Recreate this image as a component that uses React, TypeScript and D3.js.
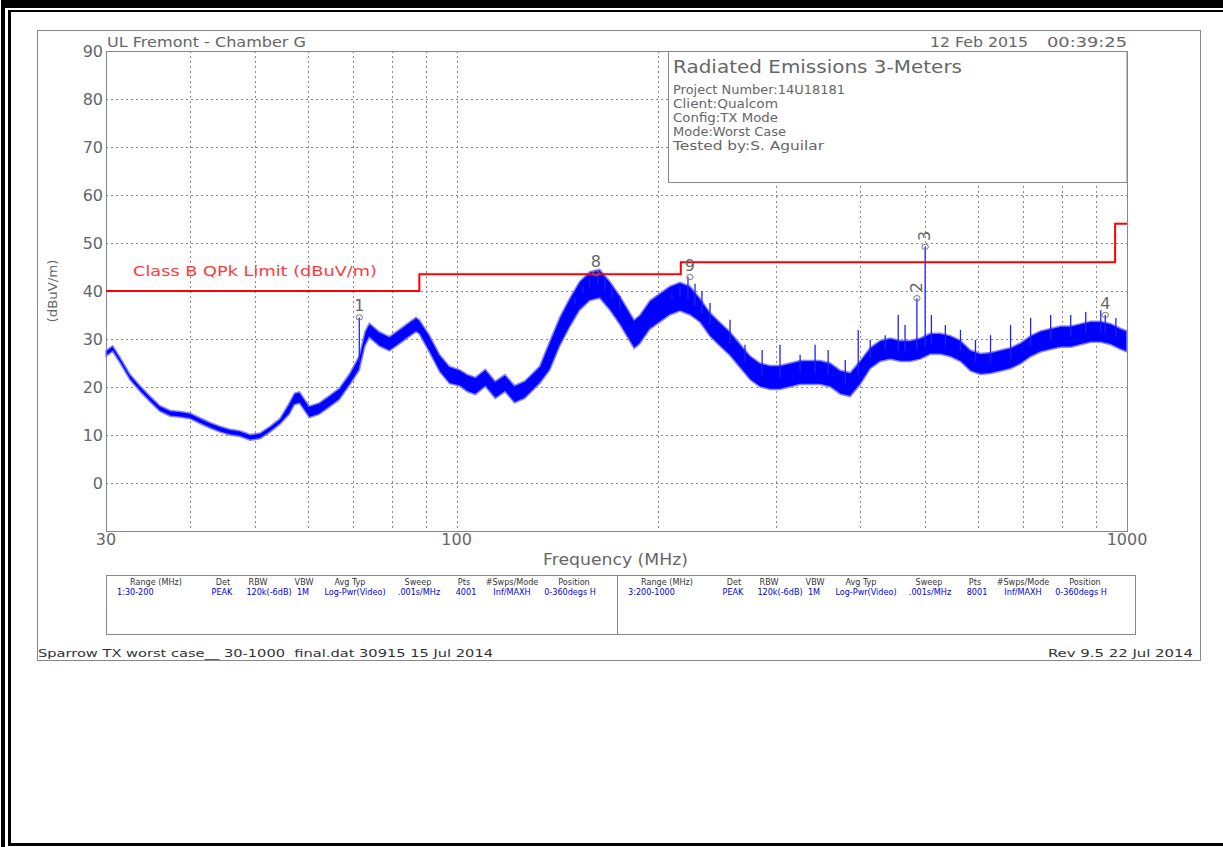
import * as d3 from "d3";
import { useEffect, useRef } from "react";

// axis ticks
const yTicks = [0, 10, 20, 30, 40, 50, 60, 70, 80, 90];
const xTickLabels = [30, 100, 1000];
const xGrid = [40, 50, 60, 70, 80, 90, 100, 200, 300, 400, 500, 600, 700, 800, 900];

// measured trace envelope (MHz, dBuV/m low / high)
const traceFreq = [
  30, 30.7, 31.5, 32.6, 33.8, 34.9, 36.1, 37.4, 38.7, 40, 41.4, 42.9, 44.4, 45.9, 47.5, 49.2,
  50.9, 52.7, 54.5, 56.3, 57.3, 58.3, 60.3, 62.4, 64.6, 66.8, 69.2, 71.6, 73, 74.1, 76.7, 79.4,
  82.2, 85, 87, 88, 91.1, 94.3, 97.6, 101, 103.8, 106.7, 110.4, 114.2, 118.1, 122, 126.3, 130.8, 133,
  137.7, 142.5, 147.5, 152.6, 158, 163.5, 169.3, 175.2, 181.3, 184, 187.7, 194.2, 201, 208.1,
  215.4, 222.9, 230.7, 238.8, 247.1, 255.8, 264.7, 274, 283.6, 293.5, 303.7, 314.4, 325.4,
  336.8, 348.6, 360.8, 373.4, 386.5, 400, 414, 428.5, 443.5, 459.1, 475.1, 491.8, 509, 526.8,
  545.3, 564.4, 584.1, 604.6, 625.8, 647.7, 670.4, 693.9, 718.2, 743.3, 769.4, 796.3, 824.2,
  853.1, 883, 913.9, 945.9, 979, 1000,
];
const traceLow = [
  26.4, 27.4, 24.9, 21.4, 18.9, 16.9, 14.9, 13.9, 13.7, 13.4, 12.4, 11.4, 10.6, 10.0, 9.7, 8.9,
  9.2, 10.6, 12.2, 14.3, 16.3, 16.6, 13.6, 14.3, 15.8, 17.3, 20.3, 23.5, 28.5, 30.3, 28.5, 27.5,
  29, 30.5, 31.5, 31, 27.2, 23.2, 20.7, 20.2, 19.0, 18.4, 20.1, 17.6, 19.0, 16.7, 17.6, 19.7, 20.7,
  23.5, 28.5, 32.5, 36, 38, 38.5, 36, 33, 29.5, 28, 29, 32, 33.5, 35,
  35.8, 35, 33.5, 30.5, 28.5, 26.5, 24, 21.5, 20, 19.5, 19.5, 20, 20.5,
  20.5, 20.5, 20, 18.5, 18, 20.5, 23.8, 25.3, 25.8, 25.3, 25.3, 25.8, 26.8, 26.8,
  26.3, 25.3, 23.3, 22.6, 22.8, 23.3, 23.8, 24.8, 26.3, 27.3, 27.8, 28.3, 28.3,
  28.8, 29.3, 29.3, 28.8, 27.8, 27.3,
];
const traceHigh = [
  27.6, 28.6, 26.1, 22.6, 20.1, 18.1, 16.1, 15.1, 14.9, 14.6, 13.6, 12.6, 11.8, 11.2, 10.9, 10.1,
  10.4, 11.8, 13.4, 16.7, 18.7, 19.0, 16.0, 16.7, 18.2, 19.7, 22.7, 26.5, 31.5, 33.3, 31.5, 30.5,
  32, 33.5, 34.5, 34, 30.8, 26.8, 24.3, 23.6, 22.6, 22.0, 23.7, 21.2, 22.6, 20.3, 21.2, 23.3, 24.3,
  29.5, 34.5, 38.5, 42, 44, 44.5, 42, 39, 35.5, 34, 35, 38, 39.5, 41,
  41.8, 41, 38.5, 35.5, 33.5, 31.5, 29, 26.5, 25, 24.5, 24.5, 25, 25.5,
  25.5, 25.5, 25, 23.5, 23, 25.5, 28.2, 29.7, 30.2, 29.7, 29.7, 30.2, 31.2, 31.2,
  30.7, 29.7, 27.7, 27, 27.2, 27.7, 28.2, 29.2, 30.7, 31.7, 32.2, 32.7, 32.7,
  33.2, 33.7, 33.7, 33.2, 32.2, 31.7,
];

// narrow spikes rising above the trace (MHz, dBuV/m)
const spikeFreq = [
  71.6, 150.2, 154.4, 158, 162.4, 166.4, 170.5, 175.2, 209.5, 215.4, 221.4, 226.8, 232.3, 238.8,
  255.8, 269.3, 285.6, 303.7, 325.4, 342.6, 358.3, 380, 397.3, 414, 435.9, 455.8, 466.6, 486, 500,
  510.8, 535.9, 564.4, 594.3, 625.8, 670.4, 718.2, 769.4, 824.2, 867.9, 913.9, 928, 962.5,
];
const spikeLevel = [
  34.5, 38.5, 41, 42.5, 43.7, 43, 41, 39, 39.5, 41, 42.9, 41.5, 40, 37.5,
  34, 28.8, 27.7, 28.8, 26.7, 28.8, 27.7, 25.6, 31.9, 29.8, 30.8, 35, 32.9, 38.5, 49.2,
  35, 32.9, 31.9, 29.8, 30.8, 32.9, 34.4, 35, 35, 35.6, 36, 35, 34.4,
];

// limit line steps
const limitFreq = [30, 88, 216, 960, 1000];
const limitLevel = [40, 43.5, 46, 54, 54];

// markers
const markerIds = ["1", "8", "9", "2", "3", "4"];
const markerFreq = [71.6, 161.4, 222.9, 486, 500, 928];
const markerLevel = [34.5, 43.7, 42.9, 38.5, 49.2, 35];
const markerRotated = [false, false, false, true, true, false];

const headerLeft = "UL Fremont - Chamber G";
const headerDate = "12 Feb 2015";
const headerTime = "00:39:25";
const infoTitle = "Radiated Emissions 3-Meters";
const infoLines = ["Project Number:14U18181", "Client:Qualcom", "Config:TX Mode", "Mode:Worst Case", "Tested by:S. Aguilar"];
const infoWidths = [172, 105, 105, 113, 151];

const tableHeaders = ["Range (MHz)", "Det", "RBW", "VBW", "Avg Typ", "Sweep", "Pts", "#Swps/Mode", "Position"];
const tableRow1 = ["1:30-200", "PEAK", "120k(-6dB)", "1M", "Log-Pwr(Video)", ".001s/MHz", "4001", "Inf/MAXH", "0-360degs H"];
const tableRow2 = ["3:200-1000", "PEAK", "120k(-6dB)", "1M", "Log-Pwr(Video)", ".001s/MHz", "8001", "Inf/MAXH", "0-360degs H"];

const footerLeft = "Sparrow TX worst case__ 30-1000  final.dat 30915 15 Jul 2014";
const footerRight = "Rev 9.5 22 Jul 2014";

const FONT = "'DejaVu Sans', sans-serif";
const NARROW = "'DejaVu Sans Condensed', 'Liberation Sans Narrow', sans-serif";
const GRAY = "#666";

export default function App() {
  const svgRef = useRef<SVGSVGElement>(null);

  useEffect(() => {
    const w = 1223;
    const h = 847;
    const svg = d3.select(svgRef.current);
    svg.selectAll("*").remove();

    const left = 106, right = 1127, top = 51, bottom = 531;
    const x = d3.scaleLog().domain([30, 1000]).range([left, right]);
    const y = d3.scaleLinear().domain([-10, 90]).range([bottom, top]);

    svg.append("rect").attr("width", w).attr("height", h).attr("fill", "#fff");

    // page frame
    svg.append("rect").attr("x", 1).attr("y", 0).attr("width", w).attr("height", 8).attr("fill", "#000");
    svg.append("rect").attr("x", 1).attr("y", 0).attr("width", 4).attr("height", h).attr("fill", "#000");
    svg.append("rect").attr("x", 8).attr("y", 10).attr("width", 3).attr("height", 836).attr("fill", "#000");
    svg.append("rect").attr("x", 8).attr("y", 10).attr("width", w - 8).attr("height", 2).attr("fill", "#000");
    svg.append("rect").attr("x", 8).attr("y", 843).attr("width", w - 8).attr("height", 3).attr("fill", "#000");

    // plot sheet box
    svg.append("rect").attr("x", 37.5).attr("y", 30.5).attr("width", 1163).attr("height", 630)
      .attr("fill", "none").attr("stroke", "#888");

    // grid
    const grid = svg.append("g").attr("stroke", "#888").attr("stroke-dasharray", "2,3").attr("stroke-width", 1);
    grid.selectAll("line.v").data(xGrid).enter().append("line")
      .attr("x1", (d) => Math.round(x(d)) + 0.5).attr("x2", (d) => Math.round(x(d)) + 0.5)
      .attr("y1", top).attr("y2", bottom);
    grid.selectAll("line.h").data(yTicks.filter((d) => d < 90)).enter().append("line")
      .attr("x1", left).attr("x2", right)
      .attr("y1", (d) => Math.round(y(d)) + 0.5).attr("y2", (d) => Math.round(y(d)) + 0.5);

    // info box
    svg.append("rect").attr("x", 668.5).attr("y", 51.5).attr("width", right - 668.5).attr("height", 131)
      .attr("fill", "#fff").attr("stroke", "#888");
    svg.append("text").attr("x", 673).attr("y", 73).attr("font-size", 17).attr("fill", GRAY)
      .attr("font-family", FONT).attr("textLength", 289).attr("lengthAdjust", "spacingAndGlyphs").text(infoTitle);
    svg.selectAll("text.info").data(infoLines).enter().append("text")
      .attr("x", 673).attr("y", (_d, i) => 94 + i * 14).attr("font-size", 12).attr("fill", GRAY)
      .attr("font-family", FONT).attr("textLength", (_d, i) => infoWidths[i])
      .attr("lengthAdjust", "spacingAndGlyphs").text((d) => d);

    // plot border
    svg.append("rect").attr("x", left + 0.5).attr("y", top + 0.5).attr("width", right - left).attr("height", bottom - top)
      .attr("fill", "none").attr("stroke", "#888");

    // header
    svg.append("text").attr("x", 107).attr("y", 47).attr("font-size", 14).attr("fill", GRAY).attr("font-family", FONT)
      .attr("textLength", 199).attr("lengthAdjust", "spacingAndGlyphs").text(headerLeft);
    svg.append("text").attr("x", 930).attr("y", 47).attr("font-size", 14).attr("fill", GRAY).attr("font-family", FONT)
      .attr("textLength", 98).attr("lengthAdjust", "spacingAndGlyphs").text(headerDate);
    svg.append("text").attr("x", 1047).attr("y", 47).attr("font-size", 14).attr("fill", GRAY).attr("font-family", FONT)
      .attr("textLength", 80).attr("lengthAdjust", "spacingAndGlyphs").text(headerTime);

    // y labels
    svg.selectAll("text.yl").data(yTicks).enter().append("text")
      .attr("x", 103).attr("y", (d) => y(d) + 6).attr("text-anchor", "end").attr("font-size", 16)
      .attr("fill", GRAY).attr("font-family", FONT).text((d) => d);
    svg.append("text").attr("transform", `translate(57, 291) rotate(-90)`).attr("text-anchor", "middle")
      .attr("font-size", 12).attr("fill", GRAY).attr("font-family", FONT)
      .attr("textLength", 63).attr("lengthAdjust", "spacingAndGlyphs").text("(dBuV/m)");

    // x labels
    svg.selectAll("text.xl").data(xTickLabels).enter().append("text")
      .attr("x", (d) => x(d)).attr("y", 545).attr("text-anchor", "middle").attr("font-size", 16)
      .attr("fill", GRAY).attr("font-family", FONT).text((d) => d);
    svg.append("text").attr("x", 543).attr("y", 565).attr("font-size", 15).attr("fill", GRAY)
      .attr("font-family", FONT).attr("textLength", 145).attr("lengthAdjust", "spacingAndGlyphs").text("Frequency (MHz)");

    // trace
    const idx = d3.range(traceFreq.length);
    const area = d3.area<number>()
      .x((i) => x(traceFreq[i]))
      .y0((i) => y(traceLow[i]))
      .y1((i) => y(traceHigh[i]));
    svg.append("path").attr("d", area(idx)).attr("fill", "#0000ff").attr("stroke", "#8080ff").attr("stroke-width", 1.5);
    const lowAt = d3.scaleLog().domain(traceFreq).range(traceLow);
    const highAt = d3.scaleLog().domain(traceFreq).range(traceHigh);
    svg.selectAll("line.spike").data(d3.range(spikeFreq.length)).enter().append("line")
      .attr("x1", (i) => x(spikeFreq[i])).attr("x2", (i) => x(spikeFreq[i]))
      .attr("y1", (i) => y(spikeLevel[i]))
      .attr("y2", (i) => y((lowAt(spikeFreq[i]) + highAt(spikeFreq[i])) / 2))
      .attr("stroke", "#2020ff").attr("stroke-width", 1.3);

    // limit line
    const limitLine = d3.line<number>().x((i) => x(limitFreq[i])).y((i) => y(limitLevel[i])).curve(d3.curveStepAfter);
    svg.append("path").attr("d", limitLine(d3.range(limitFreq.length))).attr("fill", "none")
      .attr("stroke", "#ff0000").attr("stroke-width", 2);
    svg.append("text").attr("x", 133).attr("y", 276).attr("font-size", 14).attr("fill", "#ff3a3a").attr("font-family", FONT)
      .attr("textLength", 244).attr("lengthAdjust", "spacingAndGlyphs").text("Class B QPk Limit (dBuV/m)");

    // markers
    const mk = svg.selectAll("g.mk").data(d3.range(markerIds.length)).enter().append("g")
      .attr("transform", (i) => `translate(${x(markerFreq[i])},${y(markerLevel[i])})`);
    mk.append("ellipse").attr("rx", 3.2).attr("ry", 2.6).attr("fill", "none").attr("stroke", "#777").attr("stroke-width", 1);
    mk.append("text")
      .attr("transform", (i) => (markerRotated[i] ? "translate(5,-11) rotate(-90)" : "translate(0,-6)"))
      .attr("text-anchor", "middle").attr("font-size", 16).attr("fill", "#666").attr("font-family", FONT)
      .text((i) => markerIds[i]);

    // settings table
    const tblTop = 575.5, tblBottom = 634.5;
    svg.append("rect").attr("x", 106.5).attr("y", tblTop).attr("width", 1029).attr("height", tblBottom - tblTop)
      .attr("fill", "none").attr("stroke", "#888");
    svg.append("line").attr("x1", 617.5).attr("x2", 617.5).attr("y1", tblTop).attr("y2", tblBottom).attr("stroke", "#888");
    const headX = [50, 117, 152, 198, 244, 312, 358, 406, 468];
    const valX = [11, 116, 163, 197, 249, 313, 360, 406, 464];
    [[106, tableRow1], [617, tableRow2]].forEach(([ox, row]) => {
      const o = ox as number;
      const r = row as string[];
      svg.selectAll(null).data(tableHeaders).enter().append("text")
        .attr("x", (_d, i) => o + headX[i]).attr("y", 585).attr("text-anchor", "middle")
        .attr("font-size", 9).attr("fill", "#333").attr("font-family", NARROW).text((d) => d);
      svg.selectAll(null).data(r).enter().append("text")
        .attr("x", (_d, i) => o + valX[i]).attr("y", 595).attr("text-anchor", (_d, i) => (i === 0 ? "start" : "middle"))
        .attr("font-size", 9).attr("fill", "#0000e0").attr("font-family", NARROW).text((d) => d);
    });

    // footer
    svg.append("text").attr("x", 38).attr("y", 657).attr("font-size", 11).attr("fill", "#333").attr("font-family", NARROW)
      .attr("textLength", 455).attr("lengthAdjust", "spacingAndGlyphs").style("white-space", "pre").text(footerLeft);
    svg.append("text").attr("x", 1048).attr("y", 657).attr("font-size", 11).attr("fill", "#333").attr("font-family", NARROW)
      .attr("textLength", 145).attr("lengthAdjust", "spacingAndGlyphs").text(footerRight);
  }, []);

  return <svg ref={svgRef} width={1223} height={847} style={{ position: "absolute", left: 0, top: 0 }} />;
}
